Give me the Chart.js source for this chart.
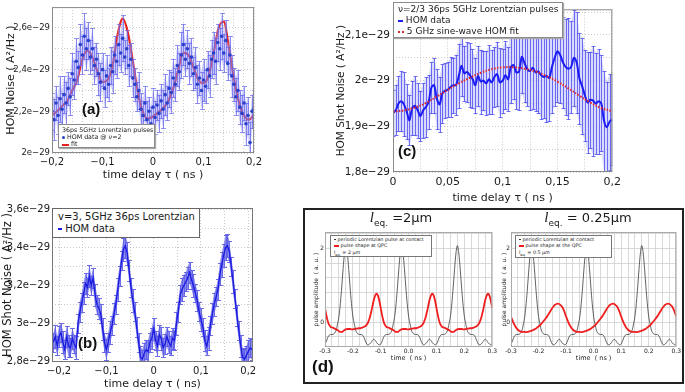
<!DOCTYPE html>
<html>
<head>
<meta charset="utf-8">
<script src="https://cdn.jsdelivr.net/npm/chart.js@4.4.0/dist/chart.umd.min.js"></script>
<style>
body { margin: 0; width: 685px; height: 392px; position: relative; overflow: hidden; background: #fff; font-family: "DejaVu Sans", sans-serif; color: #1a1a1a; }
canvas { position: absolute; }
.lbl { position: absolute; font-family: "Liberation Sans", Arial, sans-serif; font-weight: bold; color: #111; line-height: 1; z-index: 5; }
.leg { position: absolute; box-sizing: border-box; background: #fff; border: 1px solid #8a8a8a; box-shadow: 1px 1px 1px #aaa; white-space: nowrap; z-index: 5; }
.dot { display: inline-block; border-radius: 50%; vertical-align: middle; }
.bar { display: inline-block; vertical-align: middle; }
.dt { position: absolute; top: 209px; text-align: center; font-size: 13px; z-index: 5; }
.dt i { font-family: "Liberation Serif", serif; font-size: 15px; }
.dt sub { font-size: 9px; }
#dbox { position: absolute; left: 303px; top: 208px; width: 381px; height: 176px; box-sizing: border-box; border: 2px solid #222; }
</style>
</head>
<body>
<canvas id="chartA" width="265" height="190" style="left:0;top:0"></canvas>
<canvas id="chartC" width="290" height="206" style="left:335px;top:0"></canvas>
<canvas id="chartB" width="265" height="192" style="left:0;top:200px"></canvas>
<div id="dbox"></div>
<canvas id="chartD1" width="193" height="144" style="left:305px;top:226px"></canvas>
<canvas id="chartD2" width="185" height="144" style="left:497px;top:226px"></canvas>

<!-- legends and panel labels -->
<div class="leg" style="left:58px;top:124px;width:97px;height:24px;font-size:6.3px;line-height:7.2px;padding:1px 3px">
36ps 5GHz Lorentzian pulses<br>
<span class="dot" style="width:3px;height:3px;background:#2b40c8"></span> HOM data @ ν=2<br>
<span class="bar" style="width:7px;height:2px;background:#e8221c"></span> fit
</div>
<div class="lbl" style="left:82px;top:101px;font-size:15px">(a)</div>

<div class="leg" style="left:393px;top:2px;width:170px;height:36px;font-size:9px;line-height:11px;padding:1px 4px">
ν=2/3 36ps 5GHz Lorentzian pulses<br>
<span class="bar" style="width:5px;height:2px;background:#1c1cf5"></span> HOM data<br>
<span class="bar" style="width:6px;border-top:2px dotted #e02a2a"></span> 5 GHz sine-wave HOM fit
</div>
<div class="lbl" style="left:398px;top:143px;font-size:15px">(c)</div>

<div class="leg" style="left:52px;top:208px;width:148px;height:30px;font-size:10px;line-height:12px;padding:2px 5px;border:1.5px solid #666;box-shadow:none">
v=3, 5GHz 36ps Lorentzian<br>
<span class="bar" style="width:4px;height:2px;background:#1a1ae0"></span> HOM data
</div>
<div class="lbl" style="left:78px;top:335px;font-size:15px">(b)</div>

<div class="dt" style="left:350px;width:102px"><i>l</i><sub>eq.</sub> =2μm</div>
<div class="dt" style="left:538px;width:100px"><i>l</i><sub>eq.</sub> = 0.25μm</div>
<div class="leg" style="left:330px;top:235px;width:102px;height:22px;font-size:4.8px;line-height:6.4px;padding:1px 3px;box-shadow:none;border-color:#777">
<span class="bar" style="width:2px;height:1px;background:#333"></span> periodic Lorentzian pulse at contact<br>
<span class="bar" style="width:5px;height:1.5px;background:#f01e1e"></span> pulse shape at QPC<br>
l<sub style="font-size:3.5px">eq.</sub> = 2 μm
</div>
<div class="leg" style="left:515px;top:235px;width:97px;height:23px;font-size:4.8px;line-height:6.4px;padding:1px 3px;box-shadow:none;border-color:#777">
<span class="bar" style="width:2px;height:1px;background:#333"></span> periodic Lorentzian at contact<br>
<span class="bar" style="width:5px;height:1.5px;background:#f01e1e"></span> pulse shape at the QPC<br>
l<sub style="font-size:3.5px">eq.</sub> = 0.5 μm
</div>
<div class="lbl" style="left:312px;top:358px;font-size:17px">(d)</div>

<script>
// ---- panel (a): HOM noise, nu=2 (values in 1e-29 A^2/Hz) ----
const delayA = [
  -0.2, -0.196, -0.192, -0.188, -0.184, -0.18, -0.176, -0.172, -0.168, -0.164,
  -0.16, -0.156, -0.152, -0.148, -0.144, -0.14, -0.136, -0.132, -0.128, -0.124,
  -0.12, -0.116, -0.112, -0.108, -0.104, -0.1, -0.096, -0.092, -0.088, -0.084,
  -0.08, -0.076, -0.072, -0.068, -0.064, -0.06, -0.056, -0.052, -0.048, -0.044,
  -0.04, -0.036, -0.032, -0.028, -0.024, -0.02, -0.016, -0.012, -0.008, -0.004,
  0, 0.004, 0.008, 0.012, 0.016, 0.02, 0.024, 0.028, 0.032, 0.036,
  0.04, 0.044, 0.048, 0.052, 0.056, 0.06, 0.064, 0.068, 0.072, 0.076,
  0.08, 0.084, 0.088, 0.092, 0.096, 0.1, 0.104, 0.108, 0.112, 0.116,
  0.12, 0.124, 0.128, 0.132, 0.136, 0.14, 0.144, 0.148, 0.152, 0.156,
  0.16, 0.164, 0.168, 0.172, 0.176, 0.18, 0.184, 0.188, 0.192, 0.196,
  0.2
];
const noiseA = [
  2.20, 2.16, 2.24, 2.18, 2.26, 2.21, 2.28, 2.24, 2.31, 2.27,
  2.38, 2.35, 2.44, 2.41, 2.52, 2.47, 2.56, 2.50, 2.54, 2.46,
  2.50, 2.42, 2.45, 2.38, 2.34, 2.40, 2.31, 2.37, 2.33, 2.42,
  2.39, 2.47, 2.44, 2.52, 2.48, 2.55, 2.46, 2.50, 2.42, 2.45,
  2.36, 2.33, 2.27, 2.30, 2.21, 2.18, 2.24, 2.16, 2.20, 2.14,
  2.22, 2.17, 2.23, 2.19, 2.25, 2.21, 2.28, 2.24, 2.31, 2.29,
  2.36, 2.33, 2.42, 2.39, 2.47, 2.52, 2.45, 2.50, 2.43, 2.46,
  2.38, 2.41, 2.33, 2.36, 2.30, 2.35, 2.32, 2.40, 2.37, 2.45,
  2.48, 2.44, 2.53, 2.50, 2.56, 2.48, 2.54, 2.43, 2.47, 2.37,
  2.33, 2.27, 2.30, 2.22, 2.19, 2.24, 2.14, 2.18, 2.05, 2.20,
  2.21
];
const errA = [
  0.09, 0.10, 0.08, 0.09, 0.11, 0.08, 0.09, 0.10, 0.08, 0.09,
  0.10, 0.09, 0.11, 0.08, 0.10, 0.09, 0.11, 0.10, 0.09, 0.08,
  0.10, 0.09, 0.08, 0.10, 0.09, 0.08, 0.09, 0.10, 0.08, 0.09,
  0.10, 0.09, 0.08, 0.10, 0.09, 0.11, 0.08, 0.09, 0.10, 0.08,
  0.09, 0.08, 0.07, 0.09, 0.08, 0.07, 0.08, 0.09, 0.07, 0.08,
  0.09, 0.08, 0.07, 0.09, 0.08, 0.09, 0.10, 0.08, 0.09, 0.10,
  0.09, 0.08, 0.10, 0.09, 0.11, 0.10, 0.08, 0.09, 0.10, 0.09,
  0.08, 0.10, 0.09, 0.08, 0.09, 0.10, 0.08, 0.09, 0.10, 0.09,
  0.10, 0.11, 0.09, 0.10, 0.11, 0.09, 0.10, 0.08, 0.09, 0.10,
  0.08, 0.09, 0.10, 0.08, 0.09, 0.08, 0.10, 0.09, 0.10, 0.08,
  0.09
];
const fitDelayA = [
  -0.2, -0.19, -0.18, -0.17, -0.16, -0.15, -0.14, -0.13, -0.12, -0.11,
  -0.1, -0.09, -0.08, -0.07, -0.06, -0.05, -0.04, -0.03, -0.02, -0.01,
  0, 0.01, 0.02, 0.03, 0.04, 0.05, 0.06, 0.07, 0.08, 0.09,
  0.1, 0.11, 0.12, 0.13, 0.14, 0.15, 0.16, 0.17, 0.18, 0.19,
  0.2
];
const fitA = [
  2.18, 2.20, 2.225, 2.25, 2.30, 2.35, 2.45, 2.49, 2.46, 2.39,
  2.34, 2.35, 2.42, 2.57, 2.645, 2.58, 2.44, 2.29, 2.195, 2.165,
  2.175, 2.195, 2.215, 2.25, 2.31, 2.40, 2.48, 2.47, 2.41, 2.35,
  2.335, 2.37, 2.48, 2.60, 2.63, 2.51, 2.36, 2.245, 2.18, 2.16,
  2.185
];
const ticksA_x = [-0.2, -0.1, 0, 0.1, 0.2];
const ticksA_y = [2.0, 2.2, 2.4, 2.6];

// ---- panel (c): nu=2/3 ----
const delayC = [
  0, 0.0025, 0.005, 0.0075, 0.01, 0.0125, 0.015, 0.0175, 0.02, 0.0225,
  0.025, 0.0275, 0.03, 0.0325, 0.035, 0.0375, 0.04, 0.0425, 0.045, 0.0475,
  0.05, 0.0525, 0.055, 0.0575, 0.06, 0.0625, 0.065, 0.0675, 0.07, 0.0725,
  0.075, 0.0775, 0.08, 0.0825, 0.085, 0.0875, 0.09, 0.0925, 0.095, 0.0975,
  0.1, 0.1025, 0.105, 0.1075, 0.11, 0.1125, 0.115, 0.1175, 0.12, 0.1225,
  0.125, 0.1275, 0.13, 0.1325, 0.135, 0.1375, 0.14, 0.1425, 0.145, 0.1475,
  0.15, 0.1525, 0.155, 0.1575, 0.16, 0.1625, 0.165, 0.1675, 0.17, 0.1725,
  0.175, 0.1775, 0.18, 0.1825, 0.185, 0.1875, 0.19, 0.1925, 0.195, 0.1975,
  0.2
];
const noiseC = [
  1.929, 1.935, 1.950, 1.955, 1.948, 1.932, 1.913, 1.940, 1.945, 1.935,
  1.922, 1.935, 1.942, 1.953, 1.985, 1.990, 1.960, 1.948, 1.972, 1.978,
  1.980, 1.986, 1.990, 1.990, 2.010, 2.032, 2.016, 2.019, 2.012, 2.004,
  1.990, 2.010, 1.998, 2.000, 1.994, 2.003, 1.996, 2.008, 2.014, 1.996,
  2.000, 2.012, 2.003, 2.030, 2.034, 2.018, 2.020, 2.052, 2.038, 2.025,
  2.021, 2.028, 2.018, 2.020, 2.012, 2.008, 2.010, 2.006, 2.030, 2.050,
  2.064, 2.056, 2.040, 2.030, 2.026, 2.030, 2.050, 2.040, 2.005, 1.988,
  1.968, 1.952, 1.958, 1.956, 1.950, 1.955, 1.950, 1.912, 1.898, 1.910,
  1.915
];
const errC = [
  0.05, 0.055, 0.06, 0.065, 0.07, 0.06, 0.055, 0.06, 0.065, 0.06,
  0.055, 0.06, 0.065, 0.06, 0.055, 0.06, 0.065, 0.06, 0.065, 0.06,
  0.06, 0.065, 0.06, 0.065, 0.07, 0.065, 0.06, 0.065, 0.07, 0.065,
  0.06, 0.065, 0.07, 0.065, 0.07, 0.075, 0.07, 0.065, 0.07, 0.075,
  0.07, 0.075, 0.07, 0.08, 0.075, 0.08, 0.085, 0.08, 0.085, 0.08,
  0.085, 0.09, 0.085, 0.09, 0.095, 0.09, 0.1, 0.095, 0.1, 0.105,
  0.11, 0.105, 0.1, 0.105, 0.11, 0.1, 0.105, 0.11, 0.1, 0.105,
  0.1, 0.11, 0.105, 0.12, 0.11, 0.115, 0.105, 0.11, 0.1, 0.105,
  0.1
];
const fitDelayC = [0, 0.01, 0.02, 0.03, 0.04, 0.05, 0.06, 0.07, 0.08, 0.09, 0.1,
  0.11, 0.12, 0.13, 0.14, 0.15, 0.16, 0.17, 0.18, 0.19, 0.2];
const fitC = [1.932, 1.935, 1.941, 1.951, 1.965, 1.980, 1.994, 2.006, 2.017, 2.025, 2.029,
  2.029, 2.026, 2.020, 2.010, 1.998, 1.983, 1.967, 1.952, 1.940, 1.933];
const ticksC_x = [0, 0.05, 0.1, 0.15, 0.2];
const ticksC_y = [1.8, 1.9, 2.0, 2.1];

// ---- panel (b): nu=3 ----
const delayB = [
  -0.212, -0.208, -0.204, -0.2, -0.196, -0.192, -0.188, -0.184, -0.18, -0.176,
  -0.172, -0.168, -0.164, -0.16, -0.156, -0.152, -0.148, -0.144, -0.14, -0.136,
  -0.132, -0.128, -0.124, -0.12, -0.116, -0.112, -0.108, -0.104, -0.1, -0.096,
  -0.092, -0.088, -0.084, -0.08, -0.076, -0.072, -0.068, -0.064, -0.06, -0.056,
  -0.052, -0.048, -0.044, -0.04, -0.036, -0.032, -0.028, -0.024, -0.02, -0.016,
  -0.012, -0.008, -0.004, 0, 0.004, 0.008, 0.012, 0.016, 0.02, 0.024,
  0.028, 0.032, 0.036, 0.04, 0.044, 0.048, 0.052, 0.056, 0.06, 0.064,
  0.068, 0.072, 0.076, 0.08, 0.084, 0.088, 0.092, 0.096, 0.1, 0.104,
  0.108, 0.112, 0.116, 0.12, 0.124, 0.128, 0.132, 0.136, 0.14, 0.144,
  0.148, 0.152, 0.156, 0.16, 0.164, 0.168, 0.172, 0.176, 0.18, 0.184,
  0.188, 0.192, 0.196, 0.2, 0.204, 0.208
];
const noiseB = [
  2.90, 2.93, 2.88, 2.93, 2.95, 2.90, 2.86, 2.93, 2.88, 2.87,
  2.92, 2.89, 2.87, 3.00, 3.06, 3.11, 3.16, 3.21, 3.19, 3.25,
  3.20, 3.24, 3.15, 3.10, 3.08, 3.05, 2.97, 2.90, 2.86, 2.90,
  2.95, 2.99, 3.05, 3.10, 3.18, 3.25, 3.33, 3.39, 3.41, 3.37,
  3.28, 3.19, 3.12, 3.06, 2.98, 2.90, 2.82, 2.81, 2.84, 2.86,
  2.85, 2.90, 2.92, 2.97, 2.91, 2.88, 2.94, 2.92, 2.87, 2.89,
  2.93, 2.90, 2.88, 2.92, 2.91, 3.00, 3.06, 3.15, 3.18, 3.20,
  3.22, 3.24, 3.27, 3.23, 3.20, 3.16, 3.12, 3.06, 3.02, 2.98,
  2.91, 2.88, 2.92, 2.99, 3.05, 3.10, 3.14, 3.18, 3.26, 3.31,
  3.36, 3.40, 3.41, 3.38, 3.30, 3.22, 3.13, 3.04, 2.96, 2.88,
  2.82, 2.81, 2.83, 2.85, 2.87, 2.86
];
const errB = [
  0.05, 0.06, 0.05, 0.055, 0.05, 0.06, 0.05, 0.055, 0.06, 0.05,
  0.055, 0.05, 0.06, 0.05, 0.055, 0.05, 0.06, 0.055, 0.05, 0.06,
  0.05, 0.055, 0.06, 0.05, 0.055, 0.05, 0.06, 0.05, 0.055, 0.05,
  0.06, 0.05, 0.055, 0.05, 0.06, 0.055, 0.05, 0.06, 0.065, 0.06,
  0.055, 0.05, 0.06, 0.05, 0.055, 0.05, 0.06, 0.05, 0.055, 0.05,
  0.06, 0.05, 0.055, 0.06, 0.05, 0.055, 0.05, 0.06, 0.05, 0.055,
  0.05, 0.06, 0.05, 0.055, 0.05, 0.06, 0.055, 0.05, 0.06, 0.055,
  0.05, 0.06, 0.055, 0.05, 0.06, 0.05, 0.055, 0.05, 0.06, 0.05,
  0.055, 0.05, 0.06, 0.05, 0.055, 0.06, 0.05, 0.055, 0.06, 0.065,
  0.06, 0.065, 0.06, 0.055, 0.05, 0.06, 0.05, 0.055, 0.05, 0.06,
  0.05, 0.055, 0.05, 0.06, 0.05, 0.055
];
const ticksB_x = [-0.2, -0.1, 0, 0.1, 0.2];
const ticksB_y = [2.8, 3.0, 3.2, 3.4, 3.6];

// ---- panel (d): pulse shapes (a. u.) ----
const timeD = [
  -0.3, -0.295, -0.29, -0.285, -0.28, -0.275, -0.27, -0.265, -0.26, -0.255,
  -0.25, -0.245, -0.24, -0.235, -0.23, -0.225, -0.22, -0.215, -0.21, -0.205,
  -0.2, -0.195, -0.19, -0.185, -0.18, -0.175, -0.17, -0.165, -0.16, -0.155,
  -0.15, -0.145, -0.14, -0.135, -0.13, -0.125, -0.12, -0.115, -0.11, -0.105,
  -0.1, -0.095, -0.09, -0.085, -0.08, -0.075, -0.07, -0.065, -0.06, -0.055,
  -0.05, -0.045, -0.04, -0.035, -0.03, -0.025, -0.02, -0.015, -0.01, -0.005,
  0, 0.005, 0.01, 0.015, 0.02, 0.025, 0.03, 0.035, 0.04, 0.045,
  0.05, 0.055, 0.06, 0.065, 0.07, 0.075, 0.08, 0.085, 0.09, 0.095,
  0.1, 0.105, 0.11, 0.115, 0.12, 0.125, 0.13, 0.135, 0.14, 0.145,
  0.15, 0.155, 0.16, 0.165, 0.17, 0.175, 0.18, 0.185, 0.19, 0.195,
  0.2, 0.205, 0.21, 0.215, 0.22, 0.225, 0.23, 0.235, 0.24, 0.245,
  0.25, 0.255, 0.26, 0.265, 0.27, 0.275, 0.28, 0.285, 0.29, 0.295,
  0.3
];
const contactPulse = [
  -0.60, -0.52, -0.42, -0.36, -0.34, -0.34, -0.33, -0.30, -0.22, -0.05,
  0.15, 0.50, 0.95, 1.45, 1.88, 2.05, 1.88, 1.45, 0.95, 0.50,
  0.15, -0.05, -0.22, -0.30, -0.33, -0.34, -0.34, -0.36, -0.42, -0.52,
  -0.60, -0.62, -0.60, -0.56, -0.50, -0.47, -0.50, -0.56, -0.60, -0.62,
  -0.60, -0.52, -0.42, -0.36, -0.34, -0.34, -0.33, -0.30, -0.22, -0.05,
  0.15, 0.50, 0.95, 1.45, 1.88, 2.08, 1.88, 1.45, 0.95, 0.50,
  0.15, -0.05, -0.22, -0.30, -0.33, -0.34, -0.34, -0.36, -0.42, -0.52,
  -0.60, -0.62, -0.60, -0.56, -0.50, -0.47, -0.50, -0.56, -0.60, -0.62,
  -0.60, -0.52, -0.42, -0.36, -0.34, -0.34, -0.33, -0.30, -0.22, -0.05,
  0.15, 0.50, 0.95, 1.45, 1.88, 2.08, 1.88, 1.45, 0.95, 0.50,
  0.15, -0.05, -0.22, -0.30, -0.33, -0.34, -0.34, -0.36, -0.42, -0.52,
  -0.60, -0.62, -0.60, -0.56, -0.50, -0.47, -0.50, -0.56, -0.60, -0.62,
  -0.60
];
const qpcPulse2um = [
  0.38, 0.18, 0.02, -0.08, -0.13, -0.15, -0.16, -0.18, -0.20, -0.22,
  -0.25, -0.27, -0.27, -0.25, -0.22, -0.20, -0.19, -0.19, -0.19, -0.20,
  -0.20, -0.19, -0.18, -0.18, -0.17, -0.17, -0.16, -0.15, -0.13, -0.11,
  -0.07, 0.00, 0.10, 0.25, 0.42, 0.60, 0.72, 0.77, 0.72, 0.58,
  0.38, 0.18, 0.02, -0.08, -0.13, -0.15, -0.16, -0.18, -0.20, -0.22,
  -0.25, -0.27, -0.27, -0.25, -0.22, -0.20, -0.19, -0.19, -0.19, -0.20,
  -0.20, -0.19, -0.18, -0.18, -0.17, -0.17, -0.16, -0.15, -0.13, -0.11,
  -0.07, 0.00, 0.10, 0.25, 0.42, 0.60, 0.72, 0.77, 0.72, 0.58,
  0.38, 0.18, 0.02, -0.08, -0.13, -0.15, -0.16, -0.18, -0.20, -0.22,
  -0.25, -0.27, -0.27, -0.25, -0.22, -0.20, -0.19, -0.19, -0.19, -0.20,
  -0.20, -0.19, -0.18, -0.18, -0.17, -0.17, -0.16, -0.15, -0.13, -0.11,
  -0.07, 0.00, 0.10, 0.25, 0.42, 0.60, 0.72, 0.77, 0.72, 0.58,
  0.38
];
const qpcPulse025um = [
  0.15, 0.05, -0.04, -0.11, -0.17, -0.21, -0.24, -0.26, -0.27, -0.27,
  -0.27, -0.275, -0.27, -0.26, -0.25, -0.235, -0.22, -0.20, -0.18, -0.15,
  -0.12, -0.09, -0.05, 0.00, 0.04, 0.09, 0.14, 0.20, 0.26, 0.32,
  0.38, 0.43, 0.47, 0.49, 0.50, 0.49, 0.46, 0.42, 0.35, 0.26,
  0.15, 0.05, -0.04, -0.11, -0.17, -0.21, -0.24, -0.26, -0.27, -0.27,
  -0.27, -0.275, -0.27, -0.26, -0.25, -0.235, -0.22, -0.20, -0.18, -0.15,
  -0.12, -0.09, -0.05, 0.00, 0.04, 0.09, 0.14, 0.20, 0.26, 0.32,
  0.38, 0.43, 0.47, 0.49, 0.50, 0.49, 0.46, 0.42, 0.35, 0.26,
  0.15, 0.05, -0.04, -0.11, -0.17, -0.21, -0.24, -0.26, -0.27, -0.27,
  -0.27, -0.275, -0.27, -0.26, -0.25, -0.235, -0.22, -0.20, -0.18, -0.15,
  -0.12, -0.09, -0.05, 0.00, 0.04, 0.09, 0.14, 0.20, 0.26, 0.32,
  0.38, 0.43, 0.47, 0.49, 0.50, 0.49, 0.46, 0.42, 0.35, 0.26,
  0.15
];
const ticksD_x = [-0.3, -0.2, -0.1, 0, 0.1, 0.2, 0.3];
const ticksD_y = [0, 2];

const FONT = '"DejaVu Sans", sans-serif';

// label helpers
function commaNum(v) { return (v < 0 ? '\u2212' : '') + String(+Math.abs(v).toFixed(3)).replace('.', ','); }
function sciLabel(v) { return String(+v.toFixed(2)).replace('.', ',') + 'e\u221229'; }
function dotNum(v) { return v.toFixed(1); }

// gridline positions between min and max
function gridTicks(min, max, step) {
    const out = [];
    const first = Math.ceil((min - 1e-9) / step) * step;
    for (let v = first; v <= max + 1e-9; v += step) out.push({ value: +v.toFixed(6) });
    return out;
}

function axis(o) {
    return {
        type: 'linear',
        position: o.pos,
        min: o.min,
        max: o.max,
        afterBuildTicks: s => { s.ticks = gridTicks(o.min, o.max, o.step); },
        afterFit: s => { if (o.pos === 'left') s.width = o.size; else s.height = o.size; },
        ticks: {
            autoSkip: false, maxRotation: 0, minRotation: 0,
            padding: o.pad, color: '#1a1a1a',
            font: { family: FONT, size: o.fs },
            callback: v => {
                const l = o.labels.find(t => Math.abs(t - v) < 1e-6);
                return l === undefined ? '' : o.fmt(l);
            }
        },
        grid: { color: o.grid || '#bdbdbd', lineWidth: 0.8, drawTicks: false },
        border: { display: false, dash: o.dash || [1, 2] },
        title: { display: true, text: o.title, color: '#1a1a1a', font: { family: FONT, size: o.tfs }, padding: o.tpad }
    };
}

// box around the plot area
const framePlugin = {
    id: 'frame',
    afterDraw(chart, args, opts) {
        const { ctx, chartArea: a } = chart;
        ctx.save();
        ctx.strokeStyle = opts.color || '#888';
        ctx.lineWidth = 1;
        ctx.strokeRect(a.left + 0.5, a.top + 0.5, a.width - 1, a.height - 1);
        ctx.restore();
    }
};

// error bars (+ optional shaded band) drawn through the chart scales
const errorBarPlugin = {
    id: 'errorBars',
    beforeDatasetDraw(chart, args) {
        const ds = chart.data.datasets[args.index];
        if (!ds.errors) return;
        const { ctx, chartArea: a, scales: { x, y } } = chart;
        const pts = ds.data;
        ctx.save();
        ctx.beginPath();
        ctx.rect(a.left, a.top, a.width, a.height);
        ctx.clip();
        if (ds.errBand) {
            ctx.beginPath();
            pts.forEach((p, i) => {
                const px = x.getPixelForValue(p.x), py = y.getPixelForValue(p.y + ds.errors[i]);
                if (i) ctx.lineTo(px, py); else ctx.moveTo(px, py);
            });
            for (let i = pts.length - 1; i >= 0; i--) {
                ctx.lineTo(x.getPixelForValue(pts[i].x), y.getPixelForValue(pts[i].y - ds.errors[i]));
            }
            ctx.closePath();
            ctx.fillStyle = ds.errBand;
            ctx.fill();
        }
        ctx.strokeStyle = ds.errColor;
        ctx.lineWidth = ds.errWidth || 1;
        const c = ds.capHalf || 2;
        pts.forEach((p, i) => {
            const e = ds.errors[i];
            if (e == null) return;
            const px = Math.round(x.getPixelForValue(p.x)) + 0.5;
            const top = Math.round(y.getPixelForValue(p.y + e)) + 0.5;
            const bot = Math.round(y.getPixelForValue(p.y - e)) + 0.5;
            ctx.beginPath();
            ctx.moveTo(px, top); ctx.lineTo(px, bot);
            ctx.moveTo(px - c, top); ctx.lineTo(px + c, top);
            ctx.moveTo(px - c, bot); ctx.lineTo(px + c, bot);
            ctx.stroke();
        });
        ctx.restore();
    }
};

function pairs(xs, ys) { return xs.map((x, i) => ({ x: x, y: ys[i] })); }

function makeChart(id, datasets, xAxis, yAxis, padding, frameColor) {
    return new Chart(document.getElementById(id), {
        type: 'line',
        data: { datasets: datasets },
        options: {
            responsive: false,
            animation: false,
            devicePixelRatio: 1,
            events: [],
            layout: { padding: padding },
            plugins: { legend: { display: false }, tooltip: { enabled: false }, frame: { color: frameColor } },
            scales: { x: xAxis, y: yAxis }
        },
        plugins: [framePlugin, errorBarPlugin]
    });
}

// (a)
makeChart('chartA', [
    {
        data: pairs(delayA, noiseA), showLine: false,
        pointRadius: 1.8, pointBackgroundColor: '#2b40c8', pointBorderWidth: 0,
        errors: errA, errColor: 'rgba(100,100,238,0.7)', errBand: 'rgba(150,150,246,0.5)', capHalf: 2.5
    },
    {
        data: pairs(fitDelayA, fitA), borderColor: '#e8221c', borderWidth: 2.2,
        pointRadius: 0, cubicInterpolationMode: 'monotone'
    }
],
    axis({ pos: 'bottom', min: -0.2, max: 0.2, step: 0.02, labels: ticksA_x, fmt: commaNum, size: 37, pad: 3, fs: 10,
        title: 'time delay \u03c4 ( ns )', tfs: 11, tpad: { top: 0, bottom: 8 } }),
    axis({ pos: 'left', min: 2.0, max: 2.7, step: 0.1, labels: ticksA_y, fmt: sciLabel, size: 52, pad: 2, fs: 8.5,
        title: 'HOM Noise ( A\u00b2/Hz )', tfs: 11, tpad: { top: 5, bottom: 0 } }),
    { left: 0, right: 10, top: 3, bottom: 0 }, '#8a8a8a');

// (c)
makeChart('chartC', [
    {
        data: pairs(fitDelayC, fitC), borderColor: '#e02a2a', borderWidth: 2,
        borderDash: [1.5, 1.5], pointRadius: 0, tension: 0.4
    },
    {
        data: pairs(delayC, noiseC), borderColor: '#1c1cf5', borderWidth: 2,
        pointRadius: 0, tension: 0.3,
        errors: errC, errColor: 'rgba(70,70,240,0.85)', errBand: 'rgba(205,205,248,0.75)', errWidth: 0.9, capHalf: 2
    }
],
    axis({ pos: 'bottom', min: 0, max: 0.2, step: 0.025, labels: ticksC_x, fmt: commaNum, size: 34, pad: 4, fs: 11,
        title: 'time delay \u03c4 ( ns )', tfs: 11, tpad: { top: 0, bottom: 1 } }),
    axis({ pos: 'left', min: 1.8, max: 2.156, step: 0.05, labels: ticksC_y, fmt: sciLabel, size: 58, pad: 3, fs: 10.5,
        title: 'HOM Shot Noise ( A\u00b2/Hz )', tfs: 10.5, tpad: { top: 0, bottom: 0 } }),
    { left: 0, right: 12, top: 1, bottom: 0 }, '#8a8a8a');

// (b)
makeChart('chartB', [
    {
        data: pairs(delayB, noiseB), borderColor: '#1a1ae0', borderWidth: 1.3,
        pointRadius: 0, tension: 0,
        errors: errB, errColor: 'rgba(95,95,232,0.9)', errBand: 'rgba(118,118,234,0.85)', errWidth: 1, capHalf: 2.5
    }
],
    axis({ pos: 'bottom', min: -0.215, max: 0.21, step: 0.05, labels: ticksB_x, fmt: commaNum, size: 30, pad: 3, fs: 10,
        title: 'time delay \u03c4 ( ns)', tfs: 11, tpad: { top: 0, bottom: 1 } }),
    axis({ pos: 'left', min: 2.795, max: 3.61, step: 0.1, labels: ticksB_y, fmt: sciLabel, size: 52, pad: 2, fs: 10,
        title: 'HOM Shot Noise ( A\u00b2/Hz )', tfs: 11.5, tpad: { top: 1, bottom: 0 } }),
    { left: 0, right: 12, top: 7, bottom: 0 }, '#777');

// (d) left and right
function pulseChart(id, qpc, yWidth, yTitlePad, padRight) {
    return makeChart(id, [
        {
            data: pairs(timeD, qpc), borderColor: '#f01e1e', borderWidth: 1.8,
            pointRadius: 0, cubicInterpolationMode: 'monotone'
        },
        {
            data: pairs(timeD, contactPulse), borderColor: '#3a3a3a', borderWidth: 0.8,
            pointRadius: 0, cubicInterpolationMode: 'monotone'
        }
    ],
        axis({ pos: 'bottom', min: -0.3, max: 0.3, step: 0.025, labels: ticksD_x, fmt: dotNum, size: 23, pad: 1, fs: 6,
            title: 'time  ( ns )', tfs: 6.5, tpad: { top: 0, bottom: 8 }, grid: '#cfcfcf', dash: [] }),
        axis({ pos: 'left', min: -0.68, max: 2.45, step: 0.4, labels: ticksD_y, fmt: v => String(v), size: yWidth, pad: 1, fs: 6,
            title: 'pulse amplitude  ( a. u. )', tfs: 6, tpad: { top: yTitlePad, bottom: 0 }, grid: '#cfcfcf', dash: [] }),
        { left: 0, right: padRight, top: 6, bottom: 0 }, '#aaa');
}
pulseChart('chartD1', qpcPulse2um, 20, 8, 4);
pulseChart('chartD2', qpcPulse025um, 14, 4, 3);
</script>
</body>
</html>
